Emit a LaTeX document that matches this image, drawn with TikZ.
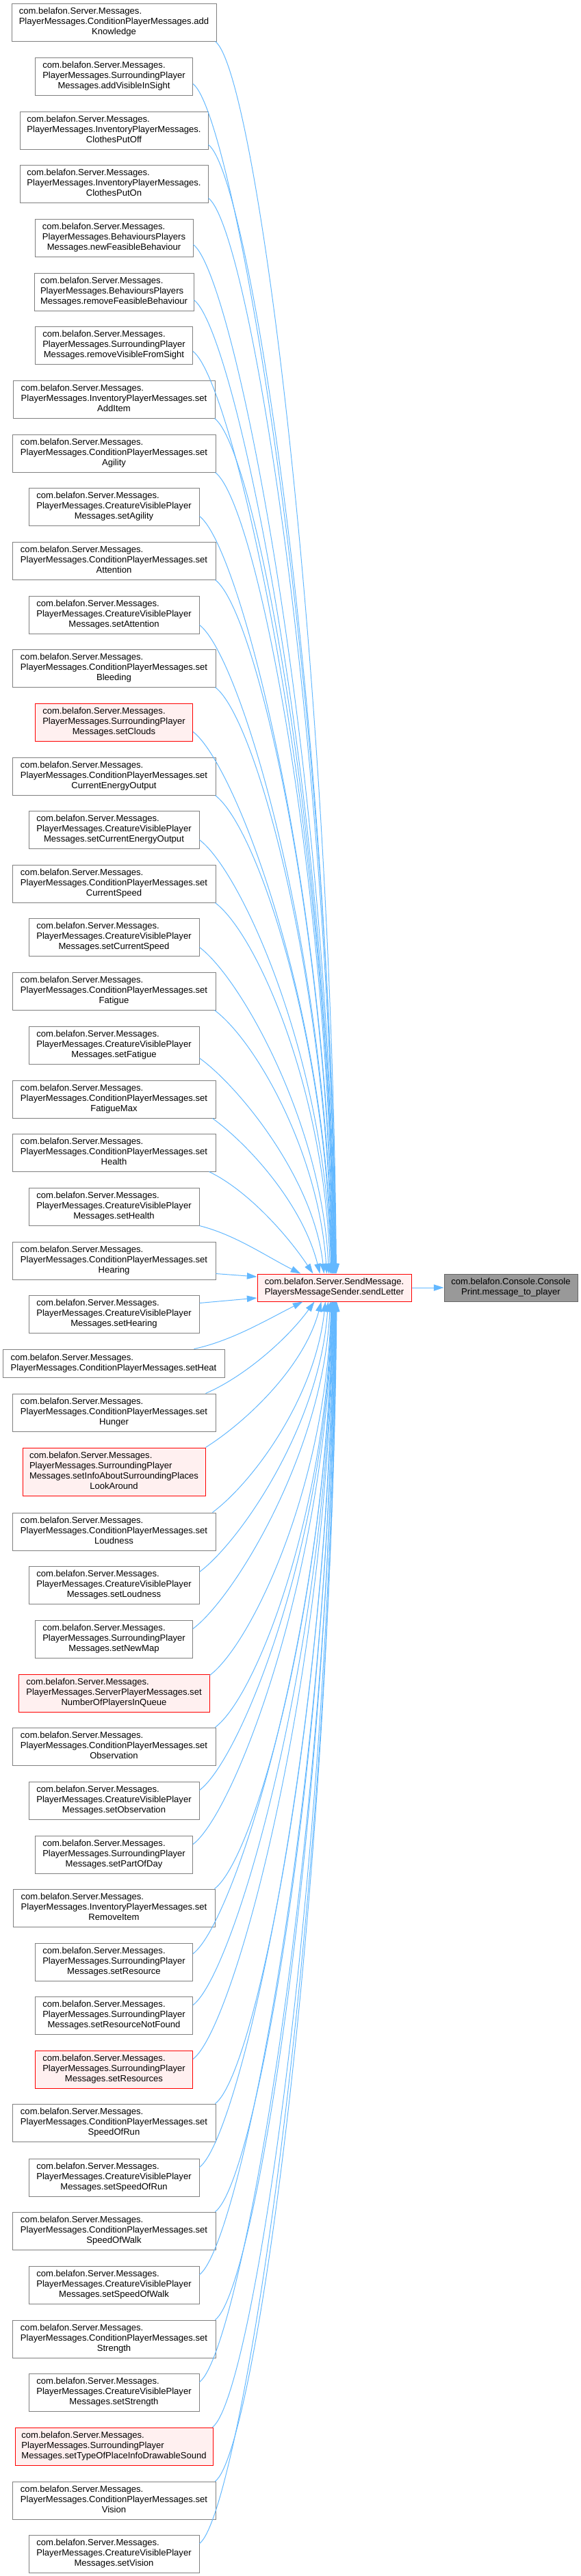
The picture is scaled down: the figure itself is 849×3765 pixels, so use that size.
\documentclass[tikz,border=0pt]{standalone}
\usepackage{fontspec}
\setmainfont{Liberation Sans}
\usetikzlibrary{arrows.meta,calc}
\definecolor{edgeblue}{HTML}{63B8FF}
\definecolor{bordergray}{HTML}{808080}
\definecolor{redfill}{HTML}{FFF0F0}
\definecolor{rootfill}{HTML}{999999}
\definecolor{rootborder}{HTML}{666666}
\newcommand\lbx[2]{\begin{tabular}{@{}l@{}}#1\\\mbox{}\hfill#2\hfill\mbox{}\end{tabular}}
\newcommand\lk[4]{\draw[link] ($#1$) .. controls ($#1+#2$) and ($#4+#3$) .. ($#4$);}
\tikzset{
  box/.style={draw=bordergray, fill=white, line width=0.75pt, inner sep=0pt,
    font=\fontsize{9.8}{11.25}\selectfont},
  redbox/.style={box, draw=red, fill=redfill},
  rootbox/.style={box, draw=rootborder, fill=rootfill},
  bw/.style={minimum width=#1*0.75pt},
  bh/.style={minimum height=#1*0.75pt},
  link/.style={draw=edgeblue, line width=0.75pt, -{Triangle[length=11pt,width=7pt]}},
}
\newcommand\SM{com.belafon.Server.Messages.}
\begin{document}
\begin{tikzpicture}[x=0.75pt,y=-0.75pt]
\useasboundingbox (0,0) rectangle (849,3765);
% caller boxes
\node[box,bw=299,bh=55] (b1) at (166.5,32.5) {\lbx{\SM\\PlayerMessages.ConditionPlayerMessages.add}{Knowledge}};
\node[box,bw=230,bh=55] (b2) at (166.5,111.5) {\lbx{\SM\\PlayerMessages.SurroundingPlayer}{Messages.addVisibleInSight}};
\node[box,bw=275,bh=55] (b3) at (166.5,190.5) {\lbx{\SM\\PlayerMessages.InventoryPlayerMessages.}{ClothesPutOff}};
\node[box,bw=275,bh=55] (b4) at (166.5,268.5) {\lbx{\SM\\PlayerMessages.InventoryPlayerMessages.}{ClothesPutOn}};
\node[box,bw=231,bh=55] (b5) at (166.5,347.5) {\lbx{\SM\\PlayerMessages.BehavioursPlayers}{Messages.newFeasibleBehaviour}};
\node[box,bw=233,bh=55] (b6) at (166.5,426.5) {\lbx{\SM\\PlayerMessages.BehavioursPlayers}{Messages.removeFeasibleBehaviour}};
\node[box,bw=230,bh=55] (b7) at (166.5,504.5) {\lbx{\SM\\PlayerMessages.SurroundingPlayer}{Messages.removeVisibleFromSight}};
\node[box,bw=295,bh=55] (b8) at (166.5,583.5) {\lbx{\SM\\PlayerMessages.InventoryPlayerMessages.set}{AddItem}};
\node[box,bw=297,bh=55] (b9) at (166.5,662.5) {\lbx{\SM\\PlayerMessages.ConditionPlayerMessages.set}{Agility}};
\node[box,bw=249,bh=55] (b10) at (166.5,740.5) {\lbx{\SM\\PlayerMessages.CreatureVisiblePlayer}{Messages.setAgility}};
\node[box,bw=297,bh=55] (b11) at (166.5,819.5) {\lbx{\SM\\PlayerMessages.ConditionPlayerMessages.set}{Attention}};
\node[box,bw=249,bh=55] (b12) at (166.5,898.5) {\lbx{\SM\\PlayerMessages.CreatureVisiblePlayer}{Messages.setAttention}};
\node[box,bw=297,bh=55] (b13) at (166.5,976.5) {\lbx{\SM\\PlayerMessages.ConditionPlayerMessages.set}{Bleeding}};
\node[redbox,bw=230,bh=55] (b14) at (166.5,1055.5) {\lbx{\SM\\PlayerMessages.SurroundingPlayer}{Messages.setClouds}};
\node[box,bw=297,bh=55] (b15) at (166.5,1134.5) {\lbx{\SM\\PlayerMessages.ConditionPlayerMessages.set}{CurrentEnergyOutput}};
\node[box,bw=249,bh=55] (b16) at (166.5,1212.5) {\lbx{\SM\\PlayerMessages.CreatureVisiblePlayer}{Messages.setCurrentEnergyOutput}};
\node[box,bw=297,bh=55] (b17) at (166.5,1291.5) {\lbx{\SM\\PlayerMessages.ConditionPlayerMessages.set}{CurrentSpeed}};
\node[box,bw=249,bh=55] (b18) at (166.5,1369.5) {\lbx{\SM\\PlayerMessages.CreatureVisiblePlayer}{Messages.setCurrentSpeed}};
\node[box,bw=297,bh=55] (b19) at (166.5,1448.5) {\lbx{\SM\\PlayerMessages.ConditionPlayerMessages.set}{Fatigue}};
\node[box,bw=249,bh=55] (b20) at (166.5,1527.5) {\lbx{\SM\\PlayerMessages.CreatureVisiblePlayer}{Messages.setFatigue}};
\node[box,bw=297,bh=55] (b21) at (166.5,1606.5) {\lbx{\SM\\PlayerMessages.ConditionPlayerMessages.set}{FatigueMax}};
\node[box,bw=297,bh=55] (b22) at (166.5,1684.5) {\lbx{\SM\\PlayerMessages.ConditionPlayerMessages.set}{Health}};
\node[box,bw=249,bh=55] (b23) at (166.5,1763.5) {\lbx{\SM\\PlayerMessages.CreatureVisiblePlayer}{Messages.setHealth}};
\node[box,bw=297,bh=55] (b24) at (166.5,1842.5) {\lbx{\SM\\PlayerMessages.ConditionPlayerMessages.set}{Hearing}};
\node[box,bw=249,bh=55] (b25) at (166.5,1920.5) {\lbx{\SM\\PlayerMessages.CreatureVisiblePlayer}{Messages.setHearing}};
\node[box,bw=324,bh=41] (b26) at (166,1992.5) {\lbx{\SM}{PlayerMessages.ConditionPlayerMessages.setHeat}};
\node[box,bw=297,bh=55] (b27) at (166.5,2064.5) {\lbx{\SM\\PlayerMessages.ConditionPlayerMessages.set}{Hunger}};
\node[redbox,bw=267,bh=70] (b28) at (166.5,2151) {\lbx{\SM\\PlayerMessages.SurroundingPlayer\\Messages.setInfoAboutSurroundingPlaces}{LookAround}};
\node[box,bw=297,bh=55] (b29) at (166.5,2238.5) {\lbx{\SM\\PlayerMessages.ConditionPlayerMessages.set}{Loudness}};
\node[box,bw=249,bh=55] (b30) at (166.5,2316.5) {\lbx{\SM\\PlayerMessages.CreatureVisiblePlayer}{Messages.setLoudness}};
\node[box,bw=230,bh=55] (b31) at (166.5,2395.5) {\lbx{\SM\\PlayerMessages.SurroundingPlayer}{Messages.setNewMap}};
\node[redbox,bw=279,bh=55] (b32) at (166.5,2474.5) {\lbx{\SM\\PlayerMessages.ServerPlayerMessages.set}{NumberOfPlayersInQueue}};
\node[box,bw=297,bh=55] (b33) at (166.5,2552.5) {\lbx{\SM\\PlayerMessages.ConditionPlayerMessages.set}{Observation}};
\node[box,bw=249,bh=55] (b34) at (166.5,2631.5) {\lbx{\SM\\PlayerMessages.CreatureVisiblePlayer}{Messages.setObservation}};
\node[box,bw=230,bh=55] (b35) at (166.5,2710.5) {\lbx{\SM\\PlayerMessages.SurroundingPlayer}{Messages.setPartOfDay}};
\node[box,bw=295,bh=55] (b36) at (166.5,2788.5) {\lbx{\SM\\PlayerMessages.InventoryPlayerMessages.set}{RemoveItem}};
\node[box,bw=230,bh=55] (b37) at (166.5,2867.5) {\lbx{\SM\\PlayerMessages.SurroundingPlayer}{Messages.setResource}};
\node[box,bw=230,bh=55] (b38) at (166.5,2945.5) {\lbx{\SM\\PlayerMessages.SurroundingPlayer}{Messages.setResourceNotFound}};
\node[redbox,bw=230,bh=55] (b39) at (166.5,3024.5) {\lbx{\SM\\PlayerMessages.SurroundingPlayer}{Messages.setResources}};
\node[box,bw=297,bh=55] (b40) at (166.5,3102.5) {\lbx{\SM\\PlayerMessages.ConditionPlayerMessages.set}{SpeedOfRun}};
\node[box,bw=249,bh=55] (b41) at (166.5,3182.5) {\lbx{\SM\\PlayerMessages.CreatureVisiblePlayer}{Messages.setSpeedOfRun}};
\node[box,bw=297,bh=55] (b42) at (166.5,3260.5) {\lbx{\SM\\PlayerMessages.ConditionPlayerMessages.set}{SpeedOfWalk}};
\node[box,bw=249,bh=55] (b43) at (166.5,3339.5) {\lbx{\SM\\PlayerMessages.CreatureVisiblePlayer}{Messages.setSpeedOfWalk}};
\node[box,bw=297,bh=55] (b44) at (166.5,3418.5) {\lbx{\SM\\PlayerMessages.ConditionPlayerMessages.set}{Strength}};
\node[box,bw=249,bh=55] (b45) at (166.5,3496.5) {\lbx{\SM\\PlayerMessages.CreatureVisiblePlayer}{Messages.setStrength}};
\node[redbox,bw=289,bh=55] (b46) at (166.5,3575.5) {\lbx{\SM\\PlayerMessages.SurroundingPlayer}{Messages.setTypeOfPlaceInfoDrawableSound}};
\node[box,bw=297,bh=55] (b47) at (166.5,3654.5) {\lbx{\SM\\PlayerMessages.ConditionPlayerMessages.set}{Vision}};
\node[box,bw=249,bh=55] (b48) at (166.5,3732.5) {\lbx{\SM\\PlayerMessages.CreatureVisiblePlayer}{Messages.setVision}};
% central and root
\node[redbox,bw=225,bh=40] (mid) at (488.5,1882) {\lbx{com.belafon.Server.SendMessage.}{PlayersMessageSender.sendLetter}};
\node[rootbox,bw=195,bh=40] (root) at (746.5,1882) {\lbx{com.belafon.Console.Console}{Print.message\_to\_player}};
% edges from the boxes above
\lk{(b1.south east)+(-2,0)}{(60,45)}{(-8,-901)}{(mid.north west)+(116,0)}
\lk{(b2.south east)+(0,-17)}{(60,45)}{(-8,-870)}{(mid.north west)+(115.5,0)}
\lk{(b3.south east)+(0,-7)}{(60,45)}{(-8,-826)}{(mid.north west)+(115,0)}
\lk{(b4.south east)+(0,-7)}{(60,45)}{(-8,-786)}{(mid.north west)+(114.5,0)}
\lk{(b5.south east)+(0,-18)}{(60,45)}{(-8,-752)}{(mid.north west)+(114,0)}
\lk{(b6.south east)+(0,-16)}{(60,45)}{(-8,-712)}{(mid.north west)+(113.5,0)}
\lk{(b7.south east)+(0,-19)}{(60,45)}{(-8,-674)}{(mid.north west)+(113,0)}
\lk{(b8.south east)+(-1,0)}{(60,45)}{(-8,-625)}{(mid.north west)+(112.5,0)}
\lk{(b9.south east)+(-1,0)}{(60,45)}{(-8,-586)}{(mid.north west)+(112,0)}
\lk{(b10.south east)+(0,-14)}{(60,45)}{(-8,-554)}{(mid.north west)+(111.5,0)}
\lk{(b11.south east)+(-1,0)}{(60,45)}{(-8,-507)}{(mid.north west)+(111,0)}
\lk{(b12.south east)+(0,-13)}{(60,45)}{(-8,-475)}{(mid.north west)+(110.5,0)}
\lk{(b13.south east)+(-1,0)}{(60,45)}{(-8,-429)}{(mid.north west)+(110,0)}
\lk{(b14.south east)+(0,-14)}{(60,45)}{(-8,-396)}{(mid.north west)+(109.5,0)}
\lk{(b15.south east)+(-1,0)}{(60,45)}{(-8,-350)}{(mid.north west)+(109,0)}
\lk{(b16.south east)+(0,-13)}{(60,45)}{(-8,-317)}{(mid.north west)+(108.5,0)}
\lk{(b17.south east)+(-1,0)}{(60,45)}{(-8,-270)}{(mid.north west)+(107,0)}
\lk{(b18.south east)+(0,-13)}{(60,45)}{(-10,-220)}{(mid.north west)+(105,0)}
\lk{(b19.south east)+(-2,0)}{(58,43)}{(-12,-180)}{(mid.north west)+(102,0)}
\lk{(b20.south east)+(0,-9)}{(56,40)}{(-15,-140)}{(mid.north west)+(98,0)}
\lk{(b21.south east)+(-5,0)}{(55,40)}{(-25,-100)}{(mid.north west)+(92,0)}
\lk{(b22.south east)+(-10,0)}{(54,26)}{(-40,-60)}{(mid.north west)+(82,0)}
\lk{(b23.south east)+(0,0)}{(52,13)}{(-50,-25)}{(mid.north west)+(64,0)}
% nearly horizontal edges
\draw[link] ($(b24.south east)+(0,-9)$) -- ($(mid.west)+(0,-16)$);
\draw[link] ($(b25.north east)+(0,12)$) -- ($(mid.west)+(0,15)$);
% edges from the boxes below
\lk{(b26.north east)+(-45,0)}{(56,-12)}{(-50,25)}{(mid.south west)+(67,0)}
\lk{(b27.north east)+(-15,0)}{(56,-24)}{(-40,55)}{(mid.south west)+(84,0)}
\lk{(b28.north east)+(0,0)}{(60,-38)}{(-25,95)}{(mid.south west)+(94,0)}
\lk{(b29.north east)+(-5,0)}{(60,-45)}{(-15,140)}{(mid.south west)+(100,0)}
\lk{(b30.north east)+(0,9)}{(60,-45)}{(-12,180)}{(mid.south west)+(104,0)}
\lk{(b31.north east)+(0,13)}{(60,-45)}{(-10,220)}{(mid.south west)+(107,0)}
\lk{(b32.north east)+(0,2)}{(60,-45)}{(-8,272)}{(mid.south west)+(108.5,0)}
\lk{(b33.north east)+(-1,0)}{(60,-45)}{(-8,311)}{(mid.south west)+(109,0)}
\lk{(b34.north east)+(0,13)}{(60,-45)}{(-8,357)}{(mid.south west)+(109.5,0)}
\lk{(b35.north east)+(0,13)}{(60,-45)}{(-8,397)}{(mid.south west)+(110,0)}
\lk{(b36.north east)+(-1,0)}{(60,-45)}{(-8,430)}{(mid.south west)+(110.5,0)}
\lk{(b37.north east)+(0,16)}{(60,-45)}{(-8,475)}{(mid.south west)+(111,0)}
\lk{(b38.north east)+(0,13)}{(60,-45)}{(-8,515)}{(mid.south west)+(111.5,0)}
\lk{(b39.north east)+(0,13)}{(60,-45)}{(-8,554)}{(mid.south west)+(112,0)}
\lk{(b40.north east)+(-1,0)}{(60,-45)}{(-8,586)}{(mid.south west)+(112.5,0)}
\lk{(b41.north east)+(0,13)}{(60,-45)}{(-8,633)}{(mid.south west)+(113,0)}
\lk{(b42.north east)+(-1,0)}{(60,-45)}{(-8,665)}{(mid.south west)+(113.5,0)}
\lk{(b43.north east)+(0,13)}{(60,-45)}{(-8,711)}{(mid.south west)+(114,0)}
\lk{(b44.north east)+(-1,0)}{(60,-45)}{(-8,745)}{(mid.south west)+(114.5,0)}
\lk{(b45.north east)+(0,13)}{(60,-45)}{(-8,790)}{(mid.south west)+(115,0)}
\lk{(b46.north east)+(-1,0)}{(60,-45)}{(-8,823)}{(mid.south west)+(115.5,0)}
\lk{(b47.north east)+(-1,0)}{(60,-45)}{(-8,862)}{(mid.south west)+(116,0)}
\lk{(b48.north east)+(0,13)}{(60,-45)}{(-8,908)}{(mid.south west)+(116.5,0)}
% to the root
\draw[link] (mid) -- (root);
\end{tikzpicture}
\end{document}
